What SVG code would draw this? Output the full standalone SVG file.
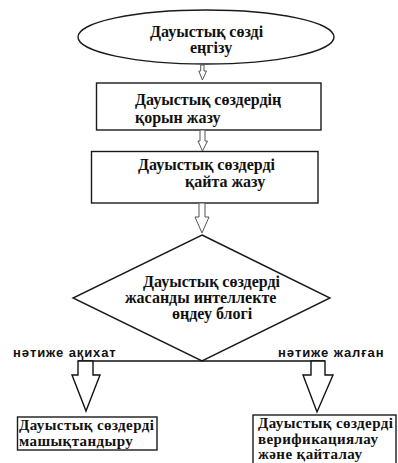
<svg xmlns="http://www.w3.org/2000/svg" width="398" height="463" viewBox="0 0 398 463">
<style>
.shape{fill:#fff;stroke:#1a1a1a;stroke-width:1.4}
.t{font-family:"Liberation Serif","Times New Roman",serif;font-weight:bold;font-size:16px;fill:#111}
.s{font-size:15px;letter-spacing:0.4px}
.lbl{font-family:"Liberation Sans",Arial,sans-serif;font-weight:bold;font-size:13px;letter-spacing:0.9px;fill:#111}
.arr{fill:#fff;stroke:#555;stroke-width:1}
.big{fill:#fff;stroke:#111;stroke-width:1.4}
</style>
<rect width="398" height="463" fill="#fff"/>
<g id="start">
<ellipse class="shape" cx="206" cy="37" rx="128" ry="27"/>
<text class="t" x="150" y="37">Дауыстық сөзді</text>
<text class="t" x="190" y="53">еңгізу</text>
</g>
<g id="write-list">
<rect class="shape" x="96.5" y="83" width="224.5" height="47"/>
<text class="t" x="135" y="105">Дауыстық сөздердің</text>
<text class="t" x="135" y="123">қорын  жазу</text>
</g>
<g id="rewrite">
<rect class="shape" x="91.5" y="151.5" width="226.5" height="51.5"/>
<text class="t" x="138" y="170">Дауыстық сөздерді</text>
<text class="t" x="185" y="187">қайта жазу</text>
</g>
<g id="ai-block">
<polygon class="shape" points="202,235 330,298 202,361 73,298"/>
<text class="t" x="143" y="287">Дауыстық сөздерді</text>
<text class="t" x="125" y="303">жасанды интеллекте</text>
<text class="t" x="172" y="319">өңдеу блогі</text>
</g>
<g id="train">
<rect class="shape" x="17.5" y="417" width="139.5" height="33"/>
<text class="t s" x="19" y="430">Дауыстық сөздерді</text>
<text class="t s" x="19" y="446">машықтандыру</text>
</g>
<g id="verify">
<rect class="shape" x="253" y="415" width="143" height="60"/>
<text class="t s" x="258" y="428">Дауыстық сөздерді</text>
<text class="t s" x="258" y="444">верификациялау</text>
<text class="t s" x="258" y="459">және қайталау</text>
</g>
<g id="connectors">
<polygon class="arr" points="200.7,65 204,65 204,71 206.5,71 202.4,80 198.8,71 200.7,71"/>
<polygon class="arr" points="200,130 205,130 205,141 207.5,141 202.5,151 198,141 200,141"/>
<polygon class="arr" points="199,203 205,203 205,217 209,217 202,233 195,217 199,217"/>
<line x1="78" y1="361" x2="325" y2="361" stroke="#111" stroke-width="1.4"/>
<polygon class="big" points="78,361 93,361 93,375 100,375 86,411 72,375 78,375"/>
<polygon class="big" points="311,361 325,361 325,375 333,375 317,412 303,375 311,375"/>
<text class="lbl" x="13" y="357">нәтиже ақихат</text>
<text class="lbl" x="278" y="357">нәтиже жалған</text>
</g>
</svg>
